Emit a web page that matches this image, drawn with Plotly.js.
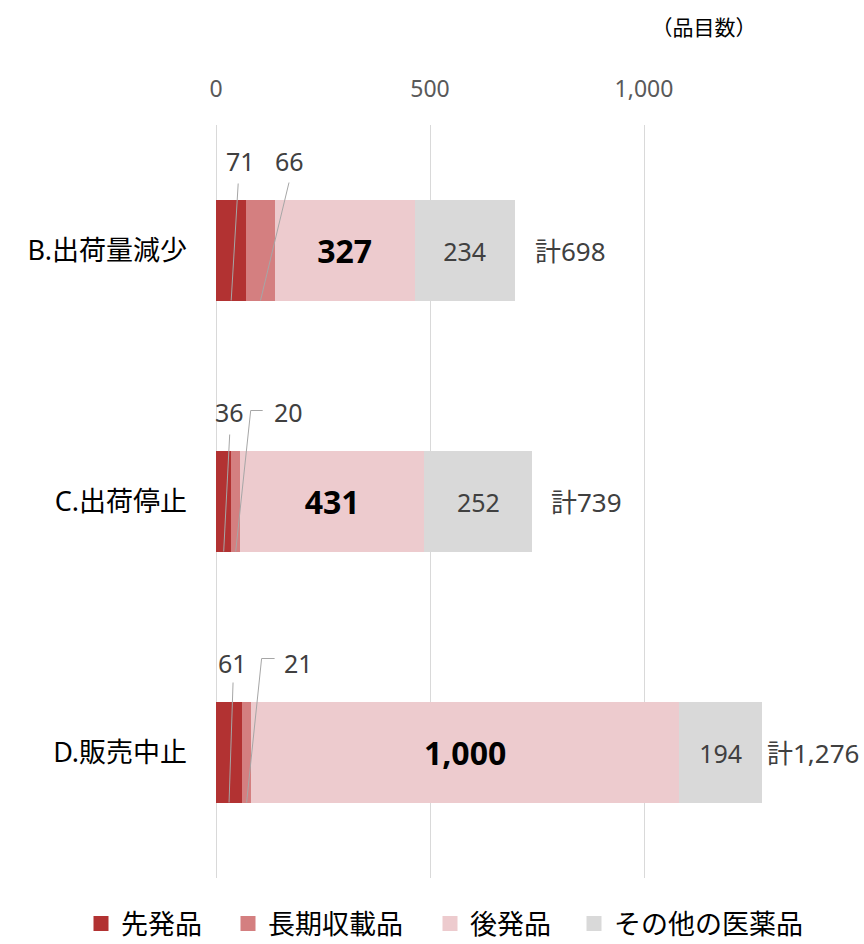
<!DOCTYPE html>
<html><head><meta charset="utf-8">
<script src="https://cdn.plot.ly/plotly-3.0.1.min.js"></script>
<style>html,body{margin:0;padding:0;background:#fff}#chart{width:864px;height:944px}</style>
</head><body><div id="chart"></div>
<script>
// ---- data ----
const categories = ['B.出荷量減少', 'C.出荷停止', 'D.販売中止'];
const seriesNames = ['先発品', '長期収載品', '後発品', 'その他の医薬品'];
const senpatsu = [71, 36, 61];
const choki = [66, 20, 21];
const kohatsu = [327, 431, 1000];
const sonota = [234, 252, 194];
const totals = [698, 739, 1276];
const xTickVals = [0, 500, 1000];
const unitLabel = '（品目数）';

// ---- style ----
const colors = ['#B23232', '#D47F80', '#EDCBCE', '#D9D9D9'];
const FONT = 'Noto Sans, Noto Sans CJK JP, sans-serif';
const W = 864, H = 944, ML = 216, MR = 6, MT = 125, MB = 66;
const XMAX = 1500;
const pxX = XMAX / (W - ML - MR);
const pxY = 3 / (H - MT - MB);
const yIdx = categories.map((c, i) => i);
const legendNames = ['legend', 'legend2', 'legend3', 'legend4'];
const legendX = [81, 228, 430, 574];
const legendEntryW = [100, 152, 100, 205];

const traces = [senpatsu, choki, kohatsu, sonota].map((vals, k) => ({
  type: 'bar', orientation: 'h', name: seriesNames[k],
  x: vals, y: yIdx, showlegend: false,
  marker: {color: colors[k], line: {width: 0}},
  text: (k >= 2) ? vals.map(v => v.toLocaleString('en-US')) : null,
  textposition: (k >= 2) ? 'inside' : 'none',
  insidetextanchor: 'middle',
  constraintext: 'none',
  textfont: k === 2 ? {family: FONT, size: 32, color: '#000', weight: 'bold'} : {family: FONT, size: 25, color: '#404040'},
  hoverinfo: 'skip'
}));
// legend entries (square swatches)
seriesNames.forEach((n, k) => traces.push({
  type: 'scatter', mode: 'markers', name: n, x: [null], y: [null],
  marker: {symbol: 'square', size: 15, color: colors[k]},
  legend: legendNames[k], showlegend: true, hoverinfo: 'skip'
}));

// small-value labels with leader lines (offsets in pixels)
const annotations = [];
const shapes = [];
const lineStyle = {color: '#A6A6A6', width: 1};
const smallCfg = [
  // [labelDx, topDx, topDy, elbowDx]
  [[9, 7, -67, null], [29, 28.5, -68, null]],
  [[6, 6, -67, null], [53, 15, -91, 27]],
  [[3, 4, -70, null], [52, 15, -94, 28]]
];
for (let i = 0; i < categories.length; i++) {
  const mids = [senpatsu[i] / 2, senpatsu[i] + choki[i] / 2];
  const vals = [senpatsu[i], choki[i]];
  for (let j = 0; j < 2; j++) {
    const [ldx, tdx, tdy, edx] = smallCfg[i][j];
    annotations.push({
      x: mids[j], y: i, xref: 'x', yref: 'y', text: String(vals[j]),
      showarrow: false, xshift: ldx, yshift: 90, xanchor: 'center', yanchor: 'middle',
      font: {family: FONT, size: 25, color: '#404040'}
    });
    shapes.push({type: 'line', xref: 'x', yref: 'y',
      x0: mids[j], y0: i + 50 * pxY, x1: mids[j] + tdx * pxX, y1: i + tdy * pxY, line: lineStyle});
    if (edx !== null) {
      shapes.push({type: 'line', xref: 'x', yref: 'y',
        x0: mids[j] + tdx * pxX, y0: i + tdy * pxY, x1: mids[j] + edx * pxX, y1: i + tdy * pxY, line: lineStyle});
    }
  }
}
const totalShift = [18, 17, 3];
totals.forEach((t, i) => annotations.push({
  x: t, y: i, xref: 'x', yref: 'y', text: '計' + t.toLocaleString('en-US'),
  showarrow: false, xanchor: 'left', yanchor: 'middle', xshift: totalShift[i],
  font: {family: FONT, size: 26, color: '#404040'}
}));

const layout = {
  width: W, height: H,
  margin: {l: ML, r: MR, t: MT, b: MB, pad: 0},
  paper_bgcolor: '#fff', plot_bgcolor: '#fff',
  barmode: 'stack', bargap: 0.6,
  showlegend: true,
  title: {text: unitLabel, x: 704 / W, xanchor: 'center', xref: 'container', y: 1 - 28 / H, yanchor: 'middle',
          font: {family: FONT, size: 21, color: '#000'}},
  xaxis: {side: 'top', range: [0, XMAX], tickvals: xTickVals, tickformat: ',',
          showgrid: true, gridcolor: '#D9D9D9', gridwidth: 1, zeroline: true, zerolinecolor: '#D9D9D9', zerolinewidth: 1,
          showline: false, ticks: '', ticklabelstandoff: 22,
          tickfont: {family: FONT, size: 23, color: '#595959'}, fixedrange: true},
  yaxis: {range: [2.5, -0.5], tickvals: yIdx, ticktext: categories, showgrid: false, zeroline: false,
          showline: false, ticks: '', ticklabelstandoff: 28,
          tickfont: {family: FONT, size: 27, color: '#000'}, fixedrange: true},
  annotations: annotations,
  shapes: shapes
};
legendNames.forEach((ln, k) => {
  layout[ln] = {orientation: 'h', x: legendX[k] / W, xanchor: 'left', xref: 'container',
                y: 1 - 924 / H, yref: 'container', yanchor: 'middle', bgcolor: 'rgba(0,0,0,0)',
                entrywidth: legendEntryW[k], entrywidthmode: 'pixels',
                font: {family: FONT, size: 27, color: '#000'}, itemwidth: 30, itemclick: false};
});
Plotly.newPlot('chart', traces, layout, {displayModeBar: false, staticPlot: true});
</script></body></html>
